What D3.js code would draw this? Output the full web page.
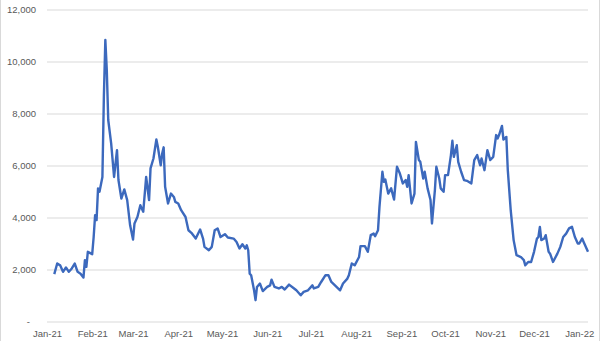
<!DOCTYPE html>
<html lang="en">
  <head>
    <meta charset="utf-8" />
    <title>Chart</title>
    <script src="https://d3js.org/d3.v7.min.js"></script>
    <style>
      body { margin: 0; background: #fff; }
      .tick text { font-family: "Liberation Sans", Arial, sans-serif; font-size: 9.5px; fill: #595959; }
    </style>
  </head>
  <body>
    <div id="chart"></div>
<script>
// daily-ish readings
var dates = [
  "2021-01-06","2021-01-08","2021-01-10","2021-01-12","2021-01-14","2021-01-16","2021-01-18","2021-01-20",
  "2021-01-22","2021-01-24","2021-01-26","2021-01-27","2021-01-28","2021-01-29","2021-02-01","2021-02-02",
  "2021-02-03","2021-02-04","2021-02-05","2021-02-06","2021-02-08","2021-02-09","2021-02-10","2021-02-11",
  "2021-02-12","2021-02-14","2021-02-16","2021-02-18","2021-02-19","2021-02-21","2021-02-23","2021-02-25",
  "2021-02-27","2021-03-01","2021-03-02","2021-03-04","2021-03-06","2021-03-08","2021-03-10","2021-03-12",
  "2021-03-13","2021-03-15","2021-03-17","2021-03-18","2021-03-20","2021-03-21","2021-03-22","2021-03-23",
  "2021-03-25","2021-03-27","2021-03-29","2021-03-30","2021-04-01","2021-04-03","2021-04-06","2021-04-08",
  "2021-04-10","2021-04-13","2021-04-16","2021-04-18","2021-04-19","2021-04-22","2021-04-24","2021-04-26",
  "2021-04-28","2021-04-30","2021-05-03","2021-05-05","2021-05-09","2021-05-11","2021-05-13","2021-05-15",
  "2021-05-17","2021-05-18","2021-05-19","2021-05-20","2021-05-21","2021-05-23","2021-05-24","2021-05-25",
  "2021-05-27","2021-05-29","2021-06-01","2021-06-03","2021-06-04","2021-06-06","2021-06-09","2021-06-11",
  "2021-06-13","2021-06-16","2021-06-19","2021-06-21","2021-06-24","2021-06-26","2021-06-29","2021-07-02",
  "2021-07-03","2021-07-06","2021-07-08","2021-07-11","2021-07-13","2021-07-15","2021-07-18","2021-07-21",
  "2021-07-23","2021-07-26","2021-07-27","2021-07-29","2021-07-31","2021-08-03","2021-08-04","2021-08-07",
  "2021-08-09","2021-08-11","2021-08-13","2021-08-14","2021-08-16","2021-08-17","2021-08-19","2021-08-20",
  "2021-08-21","2021-08-23","2021-08-25","2021-08-27","2021-08-29","2021-08-31","2021-09-02","2021-09-04",
  "2021-09-05","2021-09-06","2021-09-08","2021-09-10","2021-09-11","2021-09-13","2021-09-14","2021-09-16",
  "2021-09-17","2021-09-19","2021-09-21","2021-09-22","2021-09-24","2021-09-25","2021-09-27","2021-09-28",
  "2021-09-30","2021-10-01","2021-10-03","2021-10-05","2021-10-06","2021-10-07","2021-10-09","2021-10-10",
  "2021-10-12","2021-10-14","2021-10-16","2021-10-19","2021-10-21","2021-10-23","2021-10-25","2021-10-26",
  "2021-10-28","2021-10-30","2021-11-01","2021-11-03","2021-11-05","2021-11-06","2021-11-07","2021-11-09",
  "2021-11-10","2021-11-12","2021-11-13","2021-11-15","2021-11-17","2021-11-19","2021-11-22","2021-11-24",
  "2021-11-25","2021-11-27","2021-11-29","2021-12-01","2021-12-03","2021-12-04","2021-12-05","2021-12-06",
  "2021-12-08","2021-12-09","2021-12-11","2021-12-12","2021-12-14","2021-12-17","2021-12-19","2021-12-21",
  "2021-12-23","2021-12-25","2021-12-27","2021-12-29","2021-12-31","2022-01-01","2022-01-03","2022-01-04",
  "2022-01-07"
];
var values = [
  1820, 2230, 2160, 1910, 2080, 1910, 2040, 2230,
  1910, 1840, 1690, 2360, 2100, 2680, 2590, 3250,
  4090, 3900, 5120, 4990, 5560, 8640, 10830, 9670,
  7750, 6850, 5560, 6590, 5440, 4730, 5080, 4670,
  3700, 3150, 3770, 4020, 4470, 4220, 5560, 4670,
  5890, 6270, 7000, 6720, 6010, 6460, 6700, 5180,
  4540, 4920, 4790, 4600, 4540, 4280, 4020, 3510,
  3410, 3190, 3540, 3190, 2870, 2740, 2870, 3510,
  3580, 3250, 3360, 3230, 3190, 3060, 2810, 2970,
  2810, 2930, 2740, 1840, 1780, 1200, 820, 1330,
  1460, 1170, 1330, 1390, 1610, 1330, 1270, 1330,
  1230, 1420, 1290, 1200, 1010, 1140, 1200, 1390,
  1270, 1330, 1520, 1780, 1780, 1520, 1360, 1200,
  1460, 1650, 1780, 2230, 2160, 2480, 2900, 2900,
  2680, 3320, 3380, 3280, 3510, 4410, 5760, 5370,
  5460, 4920, 5120, 4690, 5950, 5690, 5310, 5440,
  5180, 5630, 4540, 4920, 6910, 6210, 6140, 5500,
  5760, 5120, 4670, 3770, 5050, 5950, 5500, 5120,
  4990, 5630, 5630, 6400, 6950, 6330, 6780, 6140,
  5760, 5440, 5410, 5310, 6210, 6400, 6010, 6270,
  5820, 6590, 6210, 6330, 7170, 7040, 7170, 7520,
  7000, 7100, 5820, 4280, 3130, 2550, 2480, 2360,
  2160, 2290, 2290, 2680, 3190, 3250, 3640, 3130,
  3190, 3320, 2680, 2610, 2290, 2610, 2870, 3250,
  3380, 3580, 3640, 3250, 3000, 3000, 3190, 3060,
  2680
];
var yTicks = [0, 2000, 4000, 6000, 8000, 10000, 12000];
var monthTicks = ["2021-01-01","2021-02-01","2021-03-01","2021-04-01","2021-05-01","2021-06-01",
  "2021-07-01","2021-08-01","2021-09-01","2021-10-01","2021-11-01","2021-12-01","2022-01-01"];
var xStart = "2021-01-01", xEnd = "2022-01-07";

var W = 600, H = 341;
var margin = {top: 9.5, right: 12, bottom: 19.5, left: 47};
var width = W - margin.left - margin.right,
  height = H - margin.top - margin.bottom;

var parse = d3.timeParse("%Y-%m-%d");
var data = dates.map(function(d, i) { return {date: parse(d), value: values[i]}; });

var x = d3.scaleTime()
  .domain([parse(xStart), parse(xEnd)])
  .range([0, width]);
var y = d3.scaleLinear()
  .domain([0, 12000])
  .range([height, 0]);

var svg = d3.select("#chart")
  .append("svg")
  .attr("width", W)
  .attr("height", H);

// chart border, only the sides show in the picture
svg.append("line").attr("x1", 0.5).attr("x2", 0.5).attr("y1", 0).attr("y2", H).attr("stroke", "#d9d9d9");
svg.append("line").attr("x1", W - 0.5).attr("x2", W - 0.5).attr("y1", 0).attr("y2", H).attr("stroke", "#d9d9d9");

var g = svg.append("g")
  .attr("transform", "translate(" + margin.left + "," + margin.top + ")");

var yAxis = g.append("g")
  .call(d3.axisLeft(y)
    .tickValues(yTicks)
    .tickSize(-width)
    .tickPadding(11)
    .tickFormat(function(d) { return d === 0 ? "-" : d3.format(",")(d); }));
yAxis.select(".domain").remove();
yAxis.selectAll(".tick line").attr("stroke", "#d9d9d9");
yAxis.selectAll(".tick text").filter(function(d) { return d === 0; }).attr("dx", -6);

var xAxis = g.append("g")
  .attr("transform", "translate(0," + height + ")")
  .call(d3.axisBottom(x)
    .tickValues(monthTicks.map(parse))
    .tickSize(0)
    .tickPadding(9)
    .tickFormat(d3.timeFormat("%b-%y")));
xAxis.select(".domain").remove();

var line = d3.line()
  .x(function(d) { return x(d.date); })
  .y(function(d) { return y(d.value); });

g.append("path")
  .datum(data)
  .attr("fill", "none")
  .attr("stroke", "#3c69bd")
  .attr("stroke-width", 2.4)
  .attr("stroke-linejoin", "round")
  .attr("d", line);
</script>
  </body>
</html>
